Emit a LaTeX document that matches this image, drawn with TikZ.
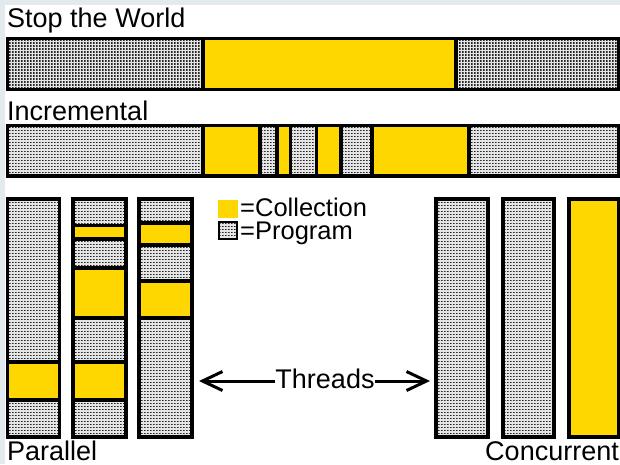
\documentclass[tikz,border=0pt]{standalone}
\usepackage{fontspec}
\setmainfont{Liberation Sans}
\usetikzlibrary{patterns,arrows.meta}
\definecolor{gold}{HTML}{FFD700}
\definecolor{edgegrey}{HTML}{E3EAED}
% fine grid of dark dots used for program time
\pgfdeclarepatternformonly{dotgrid}{\pgfqpoint{0pt}{0pt}}{\pgfqpoint{1.5pt}{1.5pt}}{\pgfqpoint{3pt}{3pt}}%
  {\pgfpathrectangle{\pgfqpoint{0pt}{0pt}}{\pgfqpoint{1.5pt}{1.5pt}}\pgfusepath{fill}}
\begin{document}
\begin{tikzpicture}[x=1pt,y=-1pt,
  dots/.style={preaction={fill=gray!20}, pattern=dotgrid, pattern color=gray!30!black},
  prog/.style={draw=black, line width=3.5pt, dots},
  coll/.style={draw=black, line width=3.5pt, fill=gold},
  lbl/.style={inner sep=0pt, anchor=base west, font=\fontsize{27}{27}\selectfont},
  leg/.style={inner sep=0pt, anchor=base west, font=\fontsize{25.5}{25.5}\selectfont},
  arr/.style={line width=3pt, -{Straight Barb[length=20pt,width=19pt,line width=3pt]}}]
\useasboundingbox (0,0) rectangle (620,464);
\fill[edgegrey] (0,0) rectangle (620,464);
\fill[white] (5,5) rectangle (620,464);

% Stop the World
\node[lbl] (stw) at (7,27) {Stop the World};
\foreach \a/\b/\s in {7.5/203/prog, 203/456/coll, 456/618.5/prog}
  \draw[\s] (\a,38.5) rectangle (\b,89.5);

% Incremental
\node[lbl] (inc) at (7,120) {Incremental};
\foreach \a/\b/\s in {7.5/203/prog, 203/260/coll, 260/277/prog, 277/290.5/coll,
    290.5/316.5/prog, 316.5/341/coll, 341/372/prog, 372/469/coll, 469/618.5/prog}
  \draw[\s] (\a,125.5) rectangle (\b,176);

% Parallel threads
\foreach \a/\b/\s in {199/362/prog, 362/400/coll, 400/437/prog}
  \draw[\s] (7.5,\a) rectangle (59.5,\b);
\foreach \a/\b/\s in {199/225.5/prog, 225.5/239/coll, 239/268/prog, 268/318/coll,
    318/362/prog, 362/400/coll, 400/437/prog}
  \draw[\s] (73,\a) rectangle (126,\b);
\foreach \a/\b/\s in {199/223/prog, 223/245/coll, 245/281/prog, 281/318/coll, 318/437/prog}
  \draw[\s] (139,\a) rectangle (192,\b);
\node[lbl] (par) at (7,460) {Parallel};

% Concurrent threads
\draw[prog] (436,199) rectangle (488,437);
\draw[prog] (503,199) rectangle (554,437);
\draw[coll] (569,199) rectangle (618.5,437);
\node[lbl, anchor=base east] (con) at (619,460) {Concurrent};

% Legend
\fill[gold] (218,200) rectangle (238,218);
\node[leg] (lcol) at (240,216) {=Collection};
\draw[line width=2pt, dots] (219,222) rectangle (237,239);
\node[leg] (lprg) at (240,239) {=Program};

% Threads arrows
\node[lbl, anchor=base] (thr) at (325,388) {Threads};
\coordinate (tl) at (199,381);
\coordinate (tr) at (430,381);
\draw[arr] (thr.west |- tl) -- (tl);
\draw[arr] (thr.east |- tr) -- (tr);
\end{tikzpicture}
\end{document}
